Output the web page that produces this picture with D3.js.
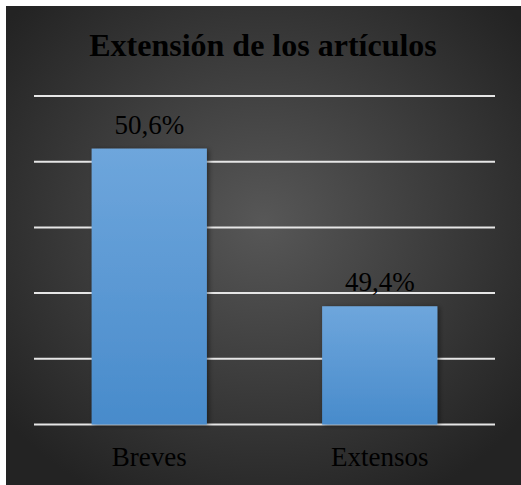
<!DOCTYPE html>
<html>
<head>
<meta charset="utf-8">
<script src="https://cdn.jsdelivr.net/npm/d3@7"></script>
<style>
  body { margin: 0; background: #fff; }
  svg { display: block; }
</style>
</head>
<body>
<div id="chart"></div>
<script>
"use strict"

// Data
const categories = ["Breves", "Extensos"]
const values = [50.6, 49.4]
const yTicks = [48.5, 49.0, 49.5, 50.0, 50.5, 51.0]
const title = "Extensión de los artículos"

const fullwidth = 521
const fullheight = 485
const margins = { top: 96, right: 26, bottom: 60, left: 34 }
const serif = "Liberation Serif, Times New Roman, serif"

const svg = d3.select("#chart").append("svg")
    .attr("width", fullwidth)
    .attr("height", fullheight)

const defs = svg.append("defs")

// background: lighter in the middle, dark at the edges
const bg = defs.append("radialGradient")
    .attr("id", "bg")
    .attr("cx", "50%").attr("cy", "45%").attr("r", "65%")
bg.append("stop").attr("offset", "0%").attr("stop-color", "#575757")
bg.append("stop").attr("offset", "100%").attr("stop-color", "#232323")

const barGrad = defs.append("linearGradient")
    .attr("id", "bar")
    .attr("x1", 0).attr("y1", 0).attr("x2", 0).attr("y2", 1)
barGrad.append("stop").attr("offset", "0%").attr("stop-color", "#6ea6dc")
barGrad.append("stop").attr("offset", "100%").attr("stop-color", "#488bcb")

const shadow = defs.append("filter").attr("id", "shadow")
    .attr("x", "-20%").attr("y", "-20%").attr("width", "140%").attr("height", "140%")
shadow.append("feDropShadow")
    .attr("dx", 2).attr("dy", 1).attr("stdDeviation", 2.5)
    .attr("flood-color", "#000").attr("flood-opacity", 0.45)

svg.append("rect")
    .attr("x", 6).attr("y", 6)
    .attr("width", fullwidth - 6).attr("height", fullheight - 6)
    .attr("fill", "url(#bg)")

const width = fullwidth - margins.left - margins.right
const height = fullheight - margins.top - margins.bottom

const x = d3.scaleBand()
    .domain(categories)
    .range([margins.left, margins.left + width])
    .paddingInner(0.5)
    .paddingOuter(0.25)

const y = d3.scaleLinear()
    .domain([d3.min(yTicks), d3.max(yTicks)])
    .range([margins.top + height - 0.5, margins.top])

// gridlines
svg.append("g")
    .selectAll("line")
    .data(yTicks)
    .join("line")
    .attr("x1", margins.left)
    .attr("x2", margins.left + width)
    .attr("y1", d => y(d))
    .attr("y2", d => y(d))
    .attr("stroke", "#e6e6e6")
    .attr("stroke-width", 2)

// bars
svg.append("g")
    .selectAll("rect")
    .data(values)
    .join("rect")
    .attr("x", (d, i) => x(categories[i]))
    .attr("y", d => y(d))
    .attr("width", x.bandwidth())
    .attr("height", d => y(d3.min(yTicks)) - y(d))
    .attr("fill", "url(#bar)")
    .attr("filter", "url(#shadow)")

// value labels
svg.append("g")
    .selectAll("text")
    .data(values)
    .join("text")
    .attr("x", (d, i) => x(categories[i]) + x.bandwidth() / 2)
    .attr("y", d => y(d) - 15)
    .attr("text-anchor", "middle")
    .attr("font-family", serif)
    .attr("font-size", 27)
    .attr("fill", "#000")
    .text(d => d.toFixed(1).replace(".", ",") + "%")

// category axis
const xAxis = svg.append("g")
    .attr("transform", `translate(0,${y(d3.min(yTicks))})`)
    .call(d3.axisBottom(x).tickSize(0).tickPadding(22))
xAxis.select(".domain").remove()
xAxis.selectAll("text")
    .attr("font-family", serif)
    .attr("font-size", 27)
    .attr("fill", "#000")

// title
svg.append("text")
    .attr("x", 263)
    .attr("y", 56)
    .attr("text-anchor", "middle")
    .attr("font-family", serif)
    .attr("font-weight", "bold")
    .attr("font-size", 32)
    .attr("fill", "#000")
    .text(title)
</script>
</body>
</html>
